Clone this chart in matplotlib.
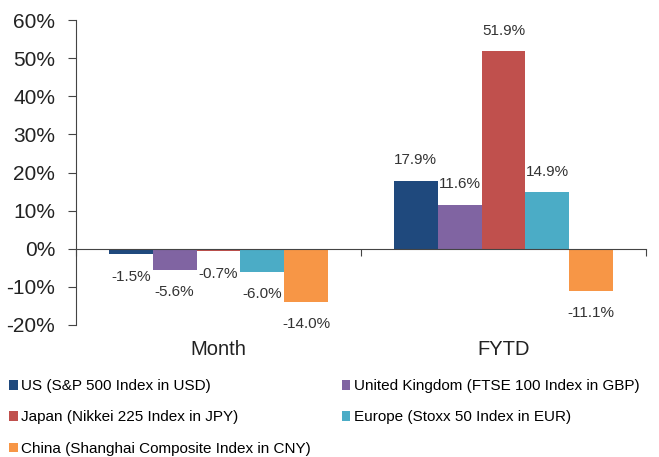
import numpy as np
import matplotlib.pyplot as plt
from matplotlib.ticker import FuncFormatter

plt.rcParams['font.family'] = ['Liberation Sans', 'DejaVu Sans']

categories = ['Month', 'FYTD']
series = ['US (S&P 500 Index in USD)',
          'United Kingdom (FTSE 100 Index in GBP)',
          'Japan (Nikkei 225 Index in JPY)',
          'Europe (Stoxx 50 Index in EUR)',
          'China (Shanghai Composite Index in CNY)']
values = [[-1.5, 17.9],
          [-5.6, 11.6],
          [-0.7, 51.9],
          [-6.0, 14.9],
          [-14.0, -11.1]]
colors = ['#1F497D', '#8064A2', '#C0504D', '#4BACC6', '#F79646']

fig = plt.figure(figsize=(6.59, 4.57), dpi=100)
ax = fig.add_axes([0.1153, 0.289, 0.865, 0.667])

n = len(series)
width = 0.77 / n
x = np.arange(len(categories))
handles = []
for i, (name, vals, c) in enumerate(zip(series, values, colors)):
    pos = x - 0.385 + width * (i + 0.5)
    bars = ax.bar(pos, vals, width, color=c, label=name, zorder=2)
    handles.append(bars)
    for p, v in zip(pos, vals):
        off = 14.5 if v > 0 else -16
        ax.annotate(f'{v:.1f}%', (p, v), xytext=(0, off), textcoords='offset points',
                    ha='center', va='center', fontsize=11, color='#333333')

ax.set_xlim(-0.5, 1.5)
ax.set_ylim(-20, 60)
ax.set_yticks(range(-20, 61, 10))
ax.yaxis.set_major_formatter(FuncFormatter(lambda v, _: f'{v:.0f}%'))
ax.tick_params(axis='y', labelsize=15, colors='#444444', length=6, pad=9,
               direction='out', labelcolor='#222222')

for s in ['top', 'right']:
    ax.spines[s].set_visible(False)
ax.spines['left'].set_color('#444444')
ax.spines['bottom'].set_position(('data', 0))
ax.spines['bottom'].set_color('#444444')
ax.set_xticks([-0.5, 0.5, 1.5])
ax.set_xticklabels([])
ax.tick_params(axis='x', length=5, direction='out', colors='#444444')

for xi, cat in zip(x, categories):
    ax.text(xi, -0.05, cat, transform=ax.get_xaxis_transform(), ha='center', va='top',
            fontsize=14.5, color='#222222')

# legend filled row by row like the original
order = [0, 2, 4, 1, 3]
fig.legend(handles=[handles[k] for k in order], labels=[series[k] for k in order],
           loc='upper left', bbox_to_anchor=(0.0, 0.19),
           ncol=2, frameon=False, fontsize=11, handlelength=0.55, handleheight=0.55,
           handletextpad=0.25, columnspacing=2.0, labelspacing=1.12, borderaxespad=0.2)

fig.savefig('out.png', dpi=100)
